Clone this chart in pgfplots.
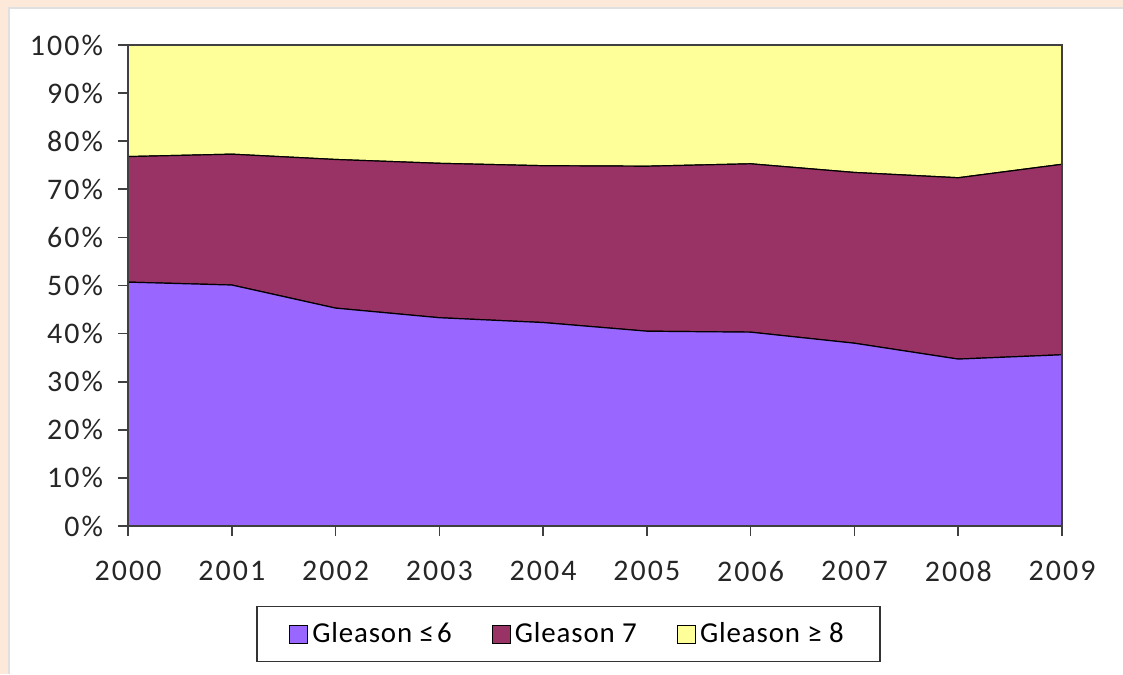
\documentclass[border=0pt]{standalone}
\usepackage{fontspec}
\setmainfont{Carlito}
\newfontfamily\tickfont[LetterSpace=7]{Carlito}
\newfontfamily\legfont[LetterSpace=3]{Carlito}
\usepackage{pgfplots}
\pgfplotsset{compat=1.18}
\definecolor{peach}{HTML}{FDE9D9}
\definecolor{gpurple}{HTML}{9966FF}
\definecolor{gred}{HTML}{993366}
\definecolor{gyellow}{HTML}{FFFF99}
\begin{document}
\begin{tikzpicture}[x=1bp,y=1bp]
\useasboundingbox (0,0) rectangle (561.5,337);
\fill[peach] (0,0) rectangle (561.5,337);
\fill[white] (4,0) rectangle (561.5,333.5);
\draw[black!12, line width=1bp] (4.5,0) -- (4.5,333) -- (561.5,333);
\begin{axis}[
  at={(64bp,74bp)}, anchor=south west,
  width=467bp, height=240.5bp, scale only axis,
  xmin=2000, xmax=2009, ymin=0, ymax=100,
  stack plots=y,
  axis on top,
  xtick={2000,2001,2002,2003,2004,2005,2006,2007,2008,2009},
  xticklabels={2000,2001,2002,2003,2004,2005,2006,2007,2008,2009},
  ytick={0,10,20,30,40,50,60,70,80,90,100},
  yticklabels={0\%,10\%,20\%,30\%,40\%,50\%,60\%,70\%,80\%,90\%,100\%},
  xtick pos=left, ytick pos=left,
  tick align=outside,
  major tick length=5bp,
  tick style={black!75, line width=0.8bp},
  axis line style={black!75, line width=1bp},
  ticklabel style={font=\tickfont\fontsize{15}{18}\selectfont, black!85},
  yticklabel style={xshift=-4bp},
  xticklabel style={yshift=-9bp},
  legend style={at={(axis description cs:0.4716,-0.166)}, anchor=north,
    legend columns=3, draw=black!80, line width=0.8bp,
    font=\legfont\fontsize{14.5}{17}\selectfont,
    inner xsep=16bp, inner ysep=6bp,
    /tikz/every even column/.append style={column sep=18bp},
    /tikz/every odd column/.append style={column sep=0bp}},
  legend image code/.code={\draw[#1, draw=black, line width=0.6bp] (0bp,-4.5bp) rectangle (9bp,4.5bp);},
]
\addplot[fill=gpurple, draw=black, line width=0.6bp] coordinates {
 (2000,50.7) (2001,50.1) (2002,45.3) (2003,43.3) (2004,42.3)
 (2005,40.5) (2006,40.3) (2007,38.0) (2008,34.7) (2009,35.6)} \closedcycle;
\addlegendentry{Gleason ≤\kern1.5pt6}
\addplot[fill=gred, draw=black, line width=0.6bp] coordinates {
 (2000,26.1) (2001,27.2) (2002,30.9) (2003,32.1) (2004,32.6)
 (2005,34.3) (2006,35.0) (2007,35.5) (2008,37.7) (2009,39.6)} \closedcycle;
\addlegendentry{Gleason 7}
\addplot[fill=gyellow, draw=black, line width=0.6bp] coordinates {
 (2000,23.2) (2001,22.7) (2002,23.8) (2003,24.6) (2004,25.1)
 (2005,25.2) (2006,24.7) (2007,26.5) (2008,27.6) (2009,24.8)} \closedcycle;
\addlegendentry{Gleason ≥ 8}
\end{axis}
\end{tikzpicture}
\end{document}
